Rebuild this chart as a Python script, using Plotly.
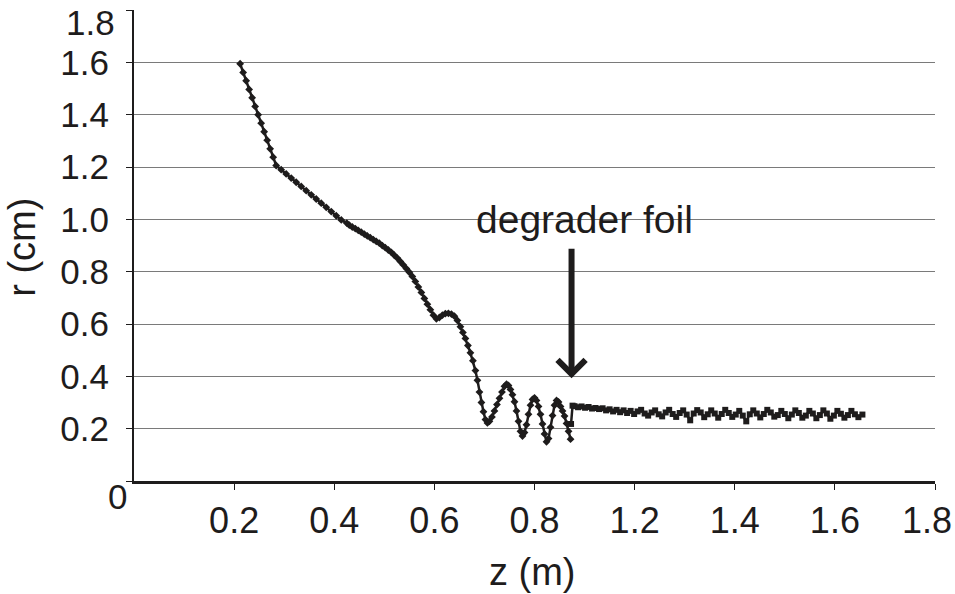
import plotly.graph_objects as go

# Series 1: beam radius before degrader foil
z1 = [0.212, 0.218, 0.224, 0.230, 0.236, 0.242, 0.248, 0.254, 0.260, 0.266, 0.272, 0.278, 0.284,
      0.294, 0.304, 0.314, 0.324, 0.334, 0.344, 0.354, 0.364, 0.374, 0.384, 0.394, 0.404, 0.414, 0.425,
      0.430, 0.436, 0.442, 0.448, 0.454, 0.460, 0.466, 0.472, 0.478, 0.484, 0.490, 0.496, 0.502, 0.508,
      0.514, 0.520, 0.526, 0.532, 0.538, 0.544, 0.550, 0.556, 0.562, 0.568, 0.574, 0.580, 0.586, 0.592,
      0.598, 0.604, 0.610, 0.616, 0.622, 0.628, 0.634, 0.640, 0.646, 0.652, 0.657, 0.662, 0.667, 0.672,
      0.677, 0.682, 0.686, 0.690, 0.694, 0.698, 0.702, 0.706, 0.710, 0.715, 0.720, 0.725, 0.730, 0.735,
      0.740, 0.744, 0.748, 0.752, 0.756, 0.760, 0.764, 0.768, 0.772, 0.776, 0.780, 0.784, 0.788, 0.792,
      0.796, 0.800, 0.804, 0.808, 0.812, 0.816, 0.820, 0.824, 0.828, 0.832, 0.836, 0.840, 0.844, 0.848,
      0.852, 0.856, 0.860, 0.864, 0.868, 0.872]
r1 = [1.595, 1.562, 1.530, 1.497, 1.465, 1.432, 1.400, 1.368, 1.335, 1.303, 1.270, 1.238, 1.206,
      1.190, 1.174, 1.158, 1.142, 1.126, 1.110, 1.094, 1.078, 1.062, 1.046, 1.030, 1.014, 0.998, 0.986,
      0.978, 0.971, 0.965, 0.958, 0.951, 0.944, 0.937, 0.930, 0.923, 0.916, 0.909, 0.900, 0.892, 0.883,
      0.874, 0.863, 0.852, 0.839, 0.826, 0.812, 0.798, 0.782, 0.763, 0.742, 0.721, 0.698, 0.676, 0.655,
      0.634, 0.620, 0.625, 0.634, 0.640, 0.641, 0.638, 0.630, 0.614, 0.590, 0.568, 0.545, 0.518, 0.490,
      0.460, 0.422, 0.385, 0.340, 0.300, 0.265, 0.235, 0.222, 0.228, 0.245, 0.268, 0.292, 0.316, 0.340,
      0.362, 0.370, 0.365, 0.350, 0.330, 0.303, 0.268, 0.228, 0.190, 0.172, 0.185, 0.215, 0.255, 0.290,
      0.312, 0.318, 0.308, 0.285, 0.255, 0.218, 0.180, 0.150, 0.162, 0.205, 0.250, 0.290, 0.308, 0.302,
      0.285, 0.268, 0.248, 0.220, 0.190, 0.160]

# Series 2: beam radius after degrader foil
z2 = [0.873, 0.876, 0.880, 0.887, 0.894, 0.901, 0.908, 0.915, 0.922, 0.929, 0.936, 0.943, 0.950,
      0.957, 0.964, 0.971, 0.978, 0.985, 0.992, 0.999, 1.006, 1.013, 1.020, 1.027, 1.034, 1.041, 1.048,
      1.055, 1.062, 1.069, 1.076, 1.083, 1.090, 1.097, 1.104, 1.111, 1.118, 1.125, 1.132, 1.139, 1.146,
      1.153, 1.160, 1.167, 1.174, 1.181, 1.188, 1.195, 1.202, 1.209, 1.216, 1.223, 1.230, 1.237, 1.244,
      1.251, 1.258, 1.265, 1.272, 1.279, 1.286, 1.293, 1.300, 1.307, 1.314, 1.321, 1.328, 1.335, 1.342,
      1.349, 1.356, 1.363, 1.370, 1.377, 1.384, 1.391, 1.398, 1.405, 1.412, 1.419, 1.426, 1.433, 1.440,
      1.447, 1.455]
r2 = [0.218, 0.288, 0.286, 0.282, 0.285, 0.280, 0.283, 0.277, 0.279, 0.275, 0.278, 0.270, 0.274,
      0.266, 0.272, 0.263, 0.270, 0.260, 0.268, 0.256, 0.266, 0.272, 0.258, 0.250, 0.262, 0.270, 0.255,
      0.247, 0.262, 0.272, 0.256, 0.245, 0.260, 0.270, 0.254, 0.232, 0.258, 0.271, 0.262, 0.244, 0.255,
      0.270, 0.258, 0.242, 0.256, 0.272, 0.260, 0.245, 0.254, 0.268, 0.250, 0.228, 0.255, 0.270, 0.258,
      0.243, 0.256, 0.272, 0.262, 0.246, 0.252, 0.268, 0.256, 0.240, 0.254, 0.270, 0.260, 0.242, 0.250,
      0.268, 0.258, 0.240, 0.252, 0.270, 0.258, 0.238, 0.250, 0.268, 0.257, 0.242, 0.252, 0.268, 0.255,
      0.244, 0.254]

# Axis ticks (as printed in the original figure)
x_tickvals = [0.2, 0.4, 0.6, 0.8, 1.0, 1.2, 1.4, 1.6]
x_ticktext = ["0.2", "0.4", "0.6", "0.8", "1.2", "1.4", "1.6", ""]
x_edge_label = "1.8"  # last x label, nudged into view as in the original
y_tickvals = [0, 0.2, 0.4, 0.6, 0.8, 1.0, 1.2, 1.4, 1.6, 1.8]
y_ticktext = ["", "0.2", "0.4", "0.6", "0.8", "1.0", "1.2", "1.4", "1.6", ""]
y_edge_labels = ["1.8", "0"]  # edge labels nudged into view, as in the original

ink = "#1e1c1c"
font_family = "Liberation Sans, Arial, Helvetica, sans-serif"

fig = go.Figure()
fig.add_trace(go.Scatter(
    x=z1, y=r1, mode="lines+markers",
    line=dict(color=ink, width=2.5),
    marker=dict(symbol="diamond", size=6, color=ink),
    showlegend=False,
))
fig.add_trace(go.Scatter(
    x=z2, y=r2, mode="lines+markers",
    line=dict(color=ink, width=2.5),
    marker=dict(symbol="square", size=6, color=ink),
    showlegend=False,
))

# arrow pointing at the degrader foil
fig.add_annotation(
    x=0.874, y=0.393, xref="x", yref="y",
    text="", showarrow=True, ax=0, ay=-131,
    arrowhead=4, arrowsize=0.9, arrowwidth=6, arrowcolor=ink, standoff=0,
)
fig.add_annotation(
    x=0.899, y=1.0, xref="x", yref="y",
    text="degrader foil", showarrow=False,
    font=dict(size=39, color=ink, family=font_family),
    xanchor="center", yanchor="middle",
)
# axis titles
fig.add_annotation(
    x=0.497, y=-0.193, xref="paper", yref="paper",
    text="z (m)", showarrow=False,
    font=dict(size=38, color=ink, family=font_family),
    xanchor="center", yanchor="middle",
)
fig.add_annotation(
    x=-0.14, y=0.497, xref="paper", yref="paper",
    text="r (cm)", showarrow=False, textangle=-90,
    font=dict(size=38, color=ink, family=font_family),
    xanchor="center", yanchor="middle",
)
# axis edge labels
fig.add_annotation(
    x=-0.0212, y=0.9745, xref="paper", yref="paper",
    text=y_edge_labels[0], showarrow=False,
    font=dict(size=35, color=ink, family=font_family),
    xanchor="right", yanchor="middle",
)
fig.add_annotation(
    x=-0.02, y=-0.032, xref="paper", yref="paper",
    text=y_edge_labels[1], showarrow=False,
    font=dict(size=35, color=ink, family=font_family),
    xanchor="center", yanchor="middle",
)
fig.add_annotation(
    x=0.99, y=-0.083, xref="paper", yref="paper",
    text=x_edge_label, showarrow=False,
    font=dict(size=36, color=ink, family=font_family),
    xanchor="center", yanchor="middle",
)

fig.update_layout(
    width=955, height=594,
    margin=dict(l=134, r=20, t=10, b=113),
    paper_bgcolor="white", plot_bgcolor="white",
    font=dict(family=font_family, color=ink, size=35),
    xaxis=dict(
        range=[0, 1.6], tickvals=x_tickvals, ticktext=x_ticktext,
        showgrid=False, zeroline=False, automargin=False,
        showline=True, linecolor=ink, linewidth=3,
        ticks="outside", ticklen=6, tickwidth=1, tickcolor=ink,
        tickfont=dict(size=36), ticklabelstandoff=0,
        ticklabeloverflow="allow",
    ),
    yaxis=dict(
        range=[0, 1.8005], tickvals=y_tickvals, ticktext=y_ticktext,
        showgrid=True, gridcolor="#7a7a7a", gridwidth=1, zeroline=False,
        automargin=False,
        showline=True, linecolor=ink, linewidth=2,
        ticks="outside", ticklen=6, tickwidth=1, tickcolor=ink,
        tickfont=dict(size=35), ticklabelstandoff=10,
        ticklabeloverflow="allow",
    ),
)

fig.write_html("out.html", post_script="document.body.style.margin='0px';",
               config={"displayModeBar": False})
